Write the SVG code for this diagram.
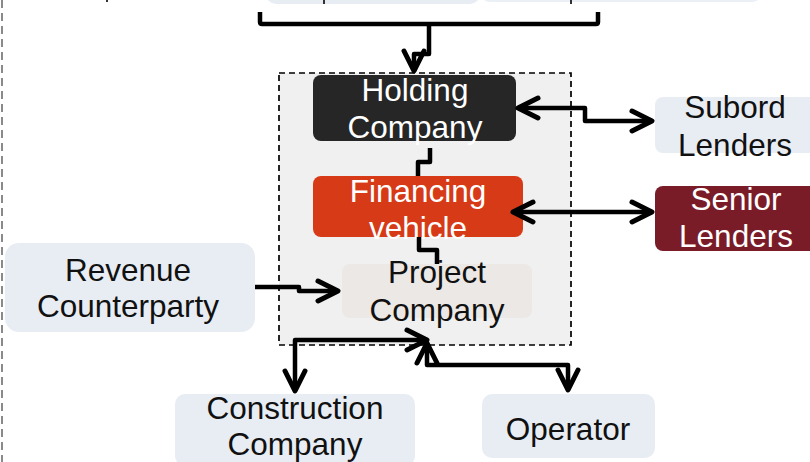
<svg xmlns="http://www.w3.org/2000/svg" width="810" height="462" viewBox="0 0 810 462">
  <style>
    .lbl { font-family: "Liberation Sans", Arial, sans-serif; font-size: 31.5px; text-anchor: middle; }
    .dark { fill: #111111; }
    .light { fill: #ffffff; }
    .pale { fill: #e8edf4; }
    .wire { fill: none; stroke: #000000; stroke-width: 4.5; stroke-linejoin: round; }
    .arrow { marker-end: url(#head); }
    .both { marker-start: url(#head); marker-end: url(#head); }
  </style>
  <defs>
    <marker id="head" viewBox="-26 -14 30 28" refX="0" refY="0" markerWidth="30" markerHeight="28" markerUnits="userSpaceOnUse" orient="auto-start-reverse">
      <path d="M-20,-10 L0,0 L-20,10" fill="none" stroke="#000000" stroke-width="5" stroke-linecap="round" stroke-linejoin="round"/>
    </marker>
  </defs>

  <rect width="810" height="462" fill="#ffffff"/>

  <!-- page margin guide -->
  <line x1="2" y1="0" x2="2" y2="462" stroke="#8a8a8a" stroke-width="2" stroke-dasharray="8 5"/>

  <!-- boxes continuing above the top edge -->
  <g id="upper-left">
    <rect x="266" y="-60" width="214" height="64" rx="10" class="pale"/>
  </g>
  <g id="upper-right">
    <rect x="480" y="-60" width="282" height="62" rx="10" fill="#ebeff6"/>
  </g>
  <g id="top-marks" stroke="#333333" stroke-width="2">
    <line x1="107" y1="0" x2="107" y2="2"/>
    <line x1="324" y1="0" x2="324" y2="4"/>
    <line x1="571" y1="0" x2="571" y2="4"/>
  </g>

  <!-- project boundary -->
  <g id="boundary">
    <rect x="279" y="73" width="292" height="272" fill="#f0f0f0" stroke="#000000" stroke-width="1.7" stroke-dasharray="6 4"/>
  </g>

  <g id="holding">
    <rect x="313" y="75" width="203" height="66" rx="8" fill="#262626"/>
    <text class="lbl light" x="415" y="101">Holding</text>
    <text class="lbl light" x="415" y="138">Company</text>
  </g>

  <g id="financing">
    <rect x="313" y="176" width="210" height="61" rx="8" fill="#d63a16"/>
    <text class="lbl light" x="418" y="202">Financing</text>
    <text class="lbl light" x="418" y="239">vehicle</text>
  </g>

  <g id="project">
    <rect x="342" y="264" width="190" height="54" rx="8" fill="#ebe8e5"/>
    <text class="lbl dark" x="437" y="283">Project</text>
    <text class="lbl dark" x="437" y="321">Company</text>
  </g>

  <g id="revenue">
    <rect x="5" y="243" width="250" height="89" rx="14" class="pale"/>
    <text class="lbl dark" x="128" y="281">Revenue</text>
    <text class="lbl dark" x="128" y="317">Counterparty</text>
  </g>

  <g id="subord">
    <rect x="655" y="97" width="170" height="56" rx="8" class="pale"/>
    <text class="lbl dark" x="735" y="118">Subord</text>
    <text class="lbl dark" x="735" y="156">Lenders</text>
  </g>

  <g id="senior">
    <rect x="655" y="186" width="170" height="65" rx="8" fill="#7a1c27"/>
    <text class="lbl light" x="736" y="210">Senior</text>
    <text class="lbl light" x="736" y="247">Lenders</text>
  </g>

  <g id="construction">
    <rect x="175" y="394" width="240" height="72" rx="10" class="pale"/>
    <text class="lbl dark" x="295" y="419">Construction</text>
    <text class="lbl dark" x="295" y="455">Company</text>
  </g>

  <g id="operator">
    <rect x="482" y="394" width="173" height="64" rx="10" class="pale"/>
    <text class="lbl dark" x="568" y="440">Operator</text>
  </g>

  <!-- connectors -->
  <g id="connectors">
    <path class="wire" d="M260,12 V22 Q260,24 262,24 H596 Q598,24 598,22 V12"/>
    <path class="wire arrow" d="M429,24 V54 H414 V71"/>
    <path class="wire" d="M430,148 V162 H418 V176"/>
    <path class="wire" d="M419,237 V250 H437 V264"/>
    <path class="wire arrow" d="M255,287 H299 V291 H338"/>
    <path class="wire both" d="M518,108 H585 V121 H652"/>
    <path class="wire both" d="M513,212 H652"/>
    <path class="wire both" d="M427,340 H295 V391"/>
    <path class="wire both" d="M427,343 V365 H568 V390"/>
  </g>
</svg>
